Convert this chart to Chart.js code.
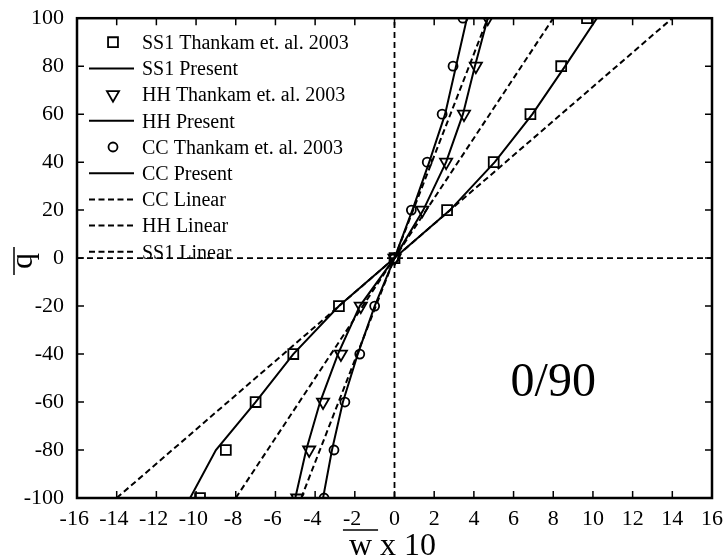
<!DOCTYPE html>
<html>
<head>
<meta charset="utf-8">
<script src="https://cdn.jsdelivr.net/npm/chart.js@4.4.1/dist/chart.umd.min.js"></script>
<style>html,body{margin:0;background:#fff}</style>
</head>
<body>
<canvas id="c" width="723" height="559"></canvas>
<script>
// load levels (q bar) and deflections (w bar x 10^-2)
const qLevels    = [-100, -80, -60, -40, -20, 0, 20, 40, 60, 80, 100];
const ss1Thankam = [-9.8, -8.5, -7.0, -5.1, -2.8, 0, 2.65, 5.0, 6.85, 8.4, 9.7];
const hhThankam  = [-4.9, -4.3, -3.6, -2.7, -1.7, 0, 1.4, 2.6, 3.5, 4.1, 4.7];
const ccThankam  = [-3.55, -3.05, -2.5, -1.75, -1.0, 0, 0.85, 1.65, 2.4, 2.95, 3.45];
const ss1Present = [-10.3, -9.0, -7.0, -5.1, -2.8, 0, 2.8, 5.05, 6.95, 8.6, 10.2];
const hhPresent  = [-5.0, -4.45, -3.75, -2.85, -1.75, 0, 1.45, 2.6, 3.45, 4.05, 4.7];
const ccPresent  = [-3.6, -3.15, -2.6, -1.85, -1.0, 0, 0.9, 1.75, 2.55, 3.1, 3.65];
const linearQ    = [-100, 100];
const ccLinear   = [-4.7, 4.7];
const hhLinear   = [-8.0, 8.0];
const ss1Linear  = [-14, 14];
const caseLabel  = '0/90';

const FONT = '"Liberation Serif", "Times New Roman", serif';
const pts = (xs, ys) => xs.map((x, i) => ({x, y: ys[i]}));

const marker = (label, xs, style, r, rot) => ({
  label, data: pts(xs, qLevels), showLine: false,
  pointStyle: style, pointRadius: r, pointHoverRadius: r, rotation: rot || 0,
  pointBorderWidth: 1.8, borderColor: '#000', backgroundColor: 'rgba(0,0,0,0)'
});
const solid = (label, xs) => ({
  label, data: pts(xs, qLevels), showLine: true, pointRadius: 0,
  borderColor: '#000', borderWidth: 2
});
const dashed = (label, xs) => ({
  label, data: pts(xs, linearQ), showLine: true, pointRadius: 0,
  borderColor: '#000', borderWidth: 2, borderDash: [6, 3.5]
});

const datasets = [
  marker('SS1 Thankam et. al. 2003', ss1Thankam, 'rect', 7),
  solid('SS1 Present', ss1Present),
  marker('HH Thankam et. al. 2003', hhThankam, 'triangle', 7, 180),
  solid('HH Present', hhPresent),
  marker('CC Thankam et. al. 2003', ccThankam, 'circle', 4.5),
  solid('CC Present', ccPresent),
  dashed('CC Linear', ccLinear),
  dashed('HH Linear', hhLinear),
  dashed('SS1 Linear', ss1Linear),
  {label: 'zero q', inLegend: false, data: [{x: -16, y: 0}, {x: 16, y: 0}], showLine: true,
   pointRadius: 0, borderColor: '#000', borderWidth: 1.8, borderDash: [6, 4]},
  {label: 'zero w', inLegend: false, data: [{x: 0, y: -100}, {x: 0, y: 100}], showLine: true,
   pointRadius: 0, borderColor: '#000', borderWidth: 1.8, borderDash: [6, 4]}
];

const bg = {
  id: 'bg',
  beforeDraw(chart) {
    const ctx = chart.ctx;
    ctx.save(); ctx.fillStyle = '#fff'; ctx.fillRect(0, 0, chart.width, chart.height); ctx.restore();
  }
};

// box with inward ticks on all four sides
const frame = {
  id: 'frame',
  afterDatasetsDraw(chart) {
    const {ctx, chartArea: a, scales: {x, y}} = chart;
    ctx.save();
    ctx.strokeStyle = '#000';
    ctx.lineWidth = 1.5;
    ctx.beginPath();
    x.ticks.forEach(t => {
      const px = x.getPixelForValue(t.value);
      ctx.moveTo(px, a.bottom); ctx.lineTo(px, a.bottom - 7);
      ctx.moveTo(px, a.top); ctx.lineTo(px, a.top + 7);
    });
    y.ticks.forEach(t => {
      const py = y.getPixelForValue(t.value);
      ctx.moveTo(a.left, py); ctx.lineTo(a.left + 7, py);
      ctx.moveTo(a.right, py); ctx.lineTo(a.right - 7, py);
    });
    ctx.stroke();
    ctx.lineWidth = 2.5;
    ctx.strokeRect(a.left, a.top, a.right - a.left, a.bottom - a.top);
    ctx.restore();
  }
};

const legendBox = {
  id: 'legendBox',
  afterDraw(chart) {
    const {ctx, chartArea: a} = chart;
    ctx.save();
    ctx.font = '20px ' + FONT;
    ctx.strokeStyle = '#000';
    ctx.fillStyle = '#000';
    let y = a.top + 24;
    chart.data.datasets.forEach(ds => {
      if (ds.inLegend === false) return;
      const mx = a.left + 36;
      ctx.beginPath();
      if (ds.showLine) {
        ctx.lineWidth = ds.borderWidth;
        ctx.setLineDash(ds.borderDash || []);
        ctx.moveTo(a.left + 12, y); ctx.lineTo(a.left + 57, y);
        ctx.stroke();
        ctx.setLineDash([]);
      } else {
        const r = ds.pointRadius;
        ctx.lineWidth = ds.pointBorderWidth;
        if (ds.pointStyle === 'rect') {
          const s = r * Math.SQRT1_2;
          ctx.rect(mx - s, y - s, 2 * s, 2 * s);
        } else if (ds.pointStyle === 'triangle') {
          ctx.moveTo(mx - r * 0.866, y - r * 0.5);
          ctx.lineTo(mx + r * 0.866, y - r * 0.5);
          ctx.lineTo(mx, y + r);
          ctx.closePath();
        } else {
          ctx.arc(mx, y, r, 0, Math.PI * 2);
        }
        ctx.stroke();
      }
      ctx.textBaseline = 'alphabetic';
      ctx.textAlign = 'left';
      ctx.fillText(ds.label, a.left + 65, y + 6.7);
      y += 26.2;
    });
    ctx.restore();
  }
};

// axis titles with overbars and the layup label
const titles = {
  id: 'titles',
  afterDraw(chart) {
    const {ctx, chartArea: a, scales: {x, y}} = chart;
    ctx.save();
    ctx.fillStyle = '#000';
    ctx.strokeStyle = '#000';
    ctx.lineWidth = 1.5;
    ctx.font = '32px ' + FONT;
    ctx.textBaseline = 'alphabetic';

    // x title
    const xt = 'w x 10';
    const tw = ctx.measureText(xt).width;
    const ww = ctx.measureText('w').width;
    const cx = (a.left + a.right) / 2 - 2;
    const x0 = cx - tw / 2;
    ctx.textAlign = 'left';
    ctx.fillText(xt, x0, 555);
    ctx.beginPath();
    ctx.moveTo(x0 - 6, 530); ctx.lineTo(x0 + ww + 6, 530);
    ctx.stroke();

    // y title
    ctx.save();
    ctx.translate(31.5, (a.top + a.bottom) / 2 + 3);
    ctx.rotate(-Math.PI / 2);
    ctx.textAlign = 'center';
    ctx.fillText('q', 0, 0);
    ctx.beginPath();
    ctx.moveTo(-14, -17.5); ctx.lineTo(14, -17.5);
    ctx.stroke();
    ctx.restore();

    // layup
    ctx.font = '48px ' + FONT;
    ctx.textAlign = 'center';
    ctx.fillText(caseLabel, x.getPixelForValue(8), y.getPixelForValue(-57.4));
    ctx.restore();
  }
};

new Chart(document.getElementById('c'), {
  type: 'scatter',
  data: {datasets},
  options: {
    responsive: false,
    animation: false,
    events: [],
    layout: {padding: {top: 16, right: 3, left: 0, bottom: 0}},
    plugins: {legend: {display: false}, tooltip: {enabled: false}},
    scales: {
      x: {
        type: 'linear', min: -16, max: 16,
        ticks: {stepSize: 2, color: '#000', padding: 0, font: {family: FONT, size: 22},
                maxRotation: 0, minRotation: 0, autoSkip: false,
                callback: v => v < 0 ? v + ' ' : String(v)},
        grid: {display: false}, border: {display: false},
        afterFit: s => { s.height = 61; }
      },
      y: {
        type: 'linear', min: -100, max: 100,
        ticks: {stepSize: 20, color: '#000', padding: 5, font: {family: FONT, size: 22}},
        grid: {display: false}, border: {display: false},
        afterFit: s => { s.width = 77; }
      }
    }
  },
  plugins: [bg, frame, legendBox, titles]
});
</script>
</body>
</html>
